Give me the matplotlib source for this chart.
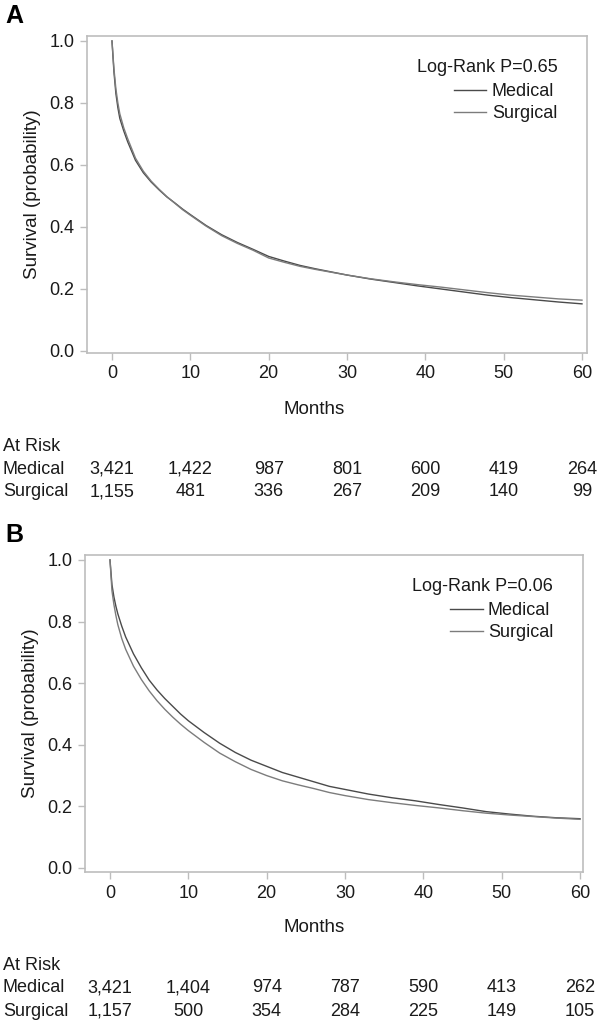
import matplotlib
matplotlib.use("Agg")
import matplotlib.pyplot as plt
from matplotlib.transforms import blended_transform_factory

plt.rcParams['font.family'] = ['Liberation Sans', 'DejaVu Sans']

# ---------------- data ----------------
months = [0, 0.25, 0.5, 0.75, 1, 1.5, 2, 3, 4, 5, 6, 7, 8, 9, 10, 12, 14, 16, 18, 20,
          22, 24, 26, 28, 30, 33, 36, 39, 42, 45, 48, 51, 54, 57, 60]

a_medical = [1.0, 0.90, 0.83, 0.785, 0.75, 0.71, 0.675, 0.615, 0.575, 0.545, 0.52, 0.497,
             0.478, 0.458, 0.44, 0.405, 0.375, 0.35, 0.328, 0.305, 0.29, 0.276, 0.265,
             0.255, 0.245, 0.232, 0.221, 0.21, 0.2, 0.19, 0.18, 0.172, 0.165, 0.158, 0.152]
a_surgical = [1.0, 0.91, 0.845, 0.80, 0.765, 0.72, 0.685, 0.622, 0.58, 0.548, 0.522, 0.498,
              0.477, 0.456, 0.438, 0.403, 0.372, 0.347, 0.325, 0.30, 0.286, 0.273, 0.263,
              0.254, 0.245, 0.233, 0.223, 0.214, 0.206, 0.197, 0.188, 0.18, 0.174, 0.168, 0.164]

b_medical = [1.0, 0.92, 0.88, 0.85, 0.825, 0.785, 0.75, 0.695, 0.65, 0.61, 0.578, 0.55,
             0.525, 0.50, 0.478, 0.44, 0.405, 0.375, 0.35, 0.33, 0.31, 0.295, 0.28,
             0.265, 0.255, 0.24, 0.228, 0.218, 0.206, 0.195, 0.183, 0.175, 0.168, 0.163, 0.16]
b_surgical = [1.0, 0.90, 0.855, 0.82, 0.79, 0.745, 0.71, 0.655, 0.612, 0.575, 0.543, 0.515,
              0.49, 0.467, 0.446, 0.408, 0.373, 0.345, 0.32, 0.30, 0.283, 0.27, 0.258,
              0.245, 0.235, 0.222, 0.212, 0.203, 0.195, 0.186, 0.178, 0.172, 0.167, 0.162, 0.158]

risk_months = [0, 10, 20, 30, 40, 50, 60]
a_risk_medical = ["3,421", "1,422", "987", "801", "600", "419", "264"]
a_risk_surgical = ["1,155", "481", "336", "267", "209", "140", "99"]
b_risk_medical = ["3,421", "1,404", "974", "787", "590", "413", "262"]
b_risk_surgical = ["1,157", "500", "354", "284", "225", "149", "105"]

xticks = [0, 10, 20, 30, 40, 50, 60]
yticks = [0.0, 0.2, 0.4, 0.6, 0.8, 1.0]

panels = [
    dict(letter="A", med=a_medical, sur=a_surgical, rm=a_risk_medical, rs=a_risk_surgical,
         p="Log-Rank P=0.65", box=(87, 587, 36, 353), xlim=(-3.19, 60.64), ylim=(-0.0065, 1.016), off=0),
    dict(letter="B", med=b_medical, sur=b_surgical, rm=b_risk_medical, rs=b_risk_surgical,
         p="Log-Rank P=0.06", box=(85, 583, 555, 872), xlim=(-3.19, 60.38), ylim=(-0.013, 1.016), off=519),
]

W, H = 597, 1022
fig = plt.figure(figsize=(W / 100, H / 100), dpi=100)

spine_c = "#bdbdbd"
txt_c = "#1a1a1a"
fs = 13

for pn in panels:
    l, r, t, b = pn["box"]
    ax = fig.add_axes([l / W, 1 - b / H, (r - l) / W, (b - t) / H])
    ax.plot(months, pn["med"], color="#4a4a4a", lw=1.0, label="Medical")
    ax.plot(months, pn["sur"], color="#7c7c7c", lw=1.0, label="Surgical")
    ax.set_xlim(*pn["xlim"])
    ax.set_ylim(*pn["ylim"])
    ax.set_xticks(xticks)
    ax.set_yticks(yticks)
    ax.set_yticklabels([f"{v:.1f}" for v in yticks])
    for s in ax.spines.values():
        s.set_color(spine_c)
        s.set_linewidth(1.2)
    ax.tick_params(axis="both", colors=spine_c, labelcolor=txt_c, labelsize=fs,
                   length=5, width=1)
    ax.tick_params(axis="x", pad=4)
    ax.tick_params(axis="y", pad=4)
    ax.set_ylabel("Survival (probability)", fontsize=fs + 0.5, color=txt_c, labelpad=6)

    leg = ax.legend(title=pn["p"], loc="upper right", frameon=False, fontsize=fs,
                    title_fontsize=fs, alignment="right", handlelength=1.8,
                    handletextpad=0.3, labelspacing=0.3, borderaxespad=0.0,
                    bbox_to_anchor=(0.955, 0.95))
    leg._legend_box.sep = 5
    for txt in leg.get_texts():
        txt.set_color(txt_c)
    leg.get_title().set_color(txt_c)

    off = pn["off"]
    fig.text(5 / W, 1 - (16 + off) / H, pn["letter"], fontsize=18, fontweight="bold",
             va="center", ha="left", color="black")
    fig.text(314 / W, 1 - (409 + off) / H, "Months", fontsize=fs + 0.5,
             ha="center", va="center", color=txt_c)

    tr = blended_transform_factory(ax.transData, fig.transFigure)
    fig.text(3 / W, 1 - (446 + off) / H, "At Risk", fontsize=fs, va="center", ha="left", color=txt_c)
    fig.text(3 / W, 1 - (469 + off) / H, "Medical", fontsize=fs, va="center", ha="left", color=txt_c)
    fig.text(3 / W, 1 - (492 + off) / H, "Surgical", fontsize=fs, va="center", ha="left", color=txt_c)
    for m, vm, vs in zip(risk_months, pn["rm"], pn["rs"]):
        ax.text(m, 1 - (469 + off) / H, vm, transform=tr, fontsize=fs, ha="center",
                va="center", color=txt_c)
        ax.text(m, 1 - (492 + off) / H, vs, transform=tr, fontsize=fs, ha="center",
                va="center", color=txt_c)

fig.savefig("out.png", dpi=100, facecolor="white")
